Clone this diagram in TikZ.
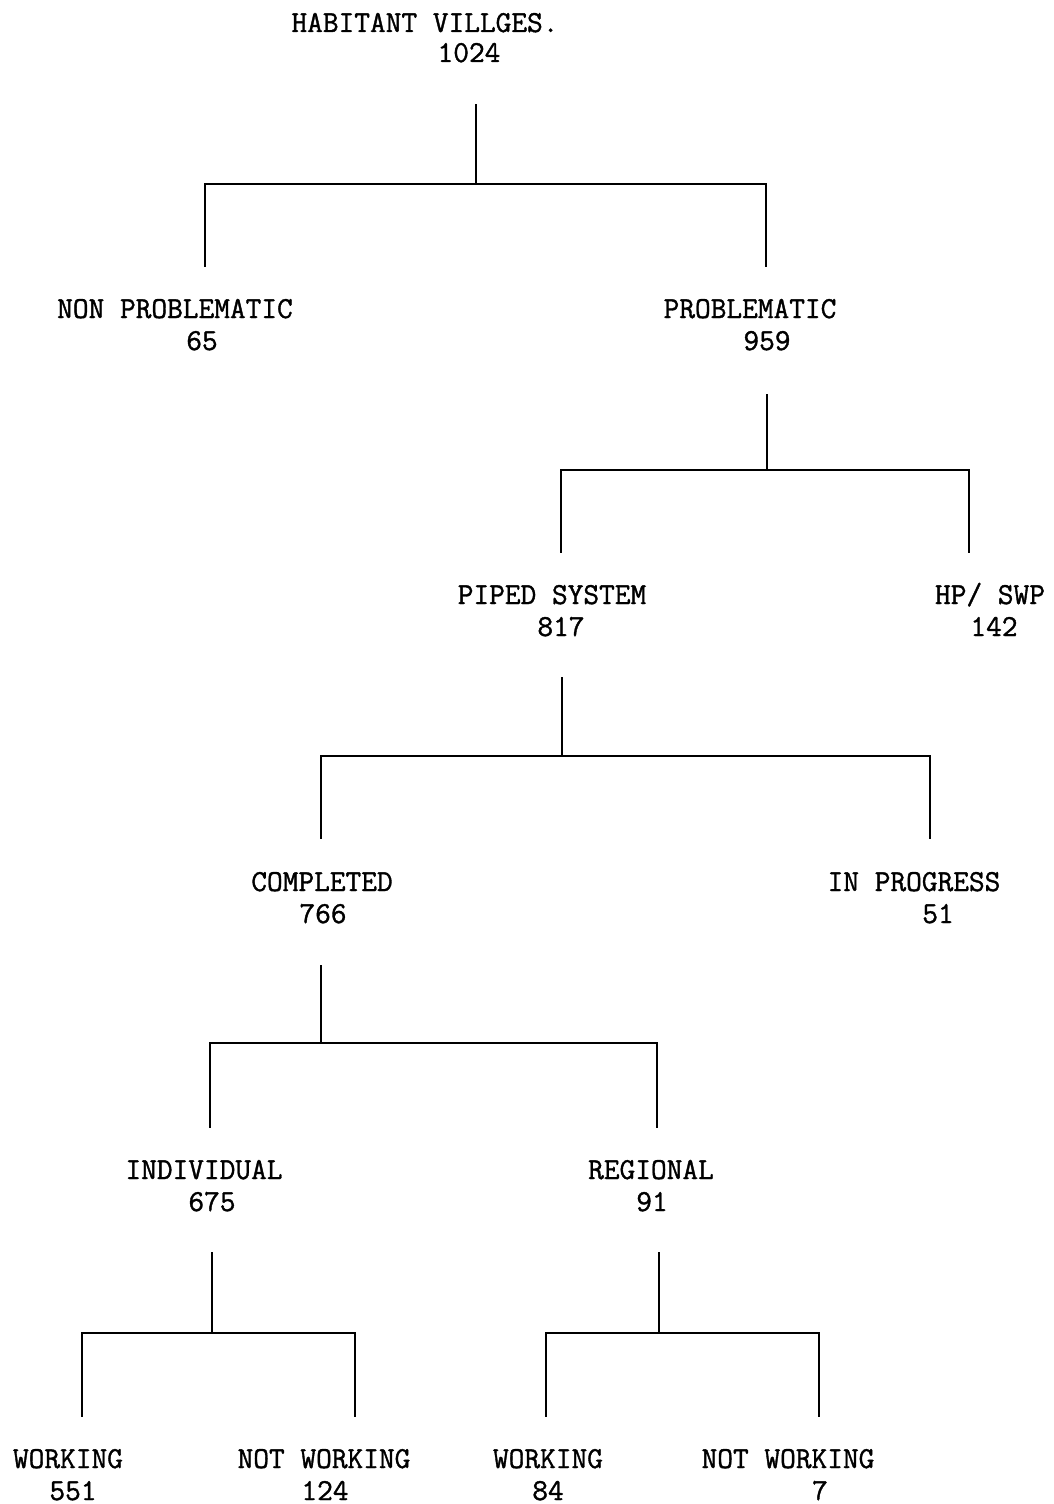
\documentclass[tikz,border=0pt]{standalone}
\usepackage{fontspec}
\newfontfamily\tyfont{Latin Modern Mono}[FakeBold=1.2]
\begin{document}
\begin{tikzpicture}[x=1pt,y=-1pt,
  lbl/.style={anchor=base, inner sep=0pt, font=\tyfont\fontsize{30.5}{32}\selectfont},
  conn/.style={line width=1.5pt, line cap=rect}]
\fill[white] (0,0) rectangle (1053,1504);
\useasboundingbox (0,0) rectangle (1053,1504);

% texts
\node[lbl] (root) at (425,32) {HABITANT VILLGES.};
\node[lbl] (rootn) at (469,62) {1024};
\node[lbl] (np) at (175,318) {NON PROBLEMATIC};
\node[lbl] (npn) at (202,350) {65};
\node[lbl] (pr) at (750,318) {PROBLEMATIC};
\node[lbl] (prn) at (767,350) {959};
\node[lbl] (ps) at (552,604) {PIPED SYSTEM};
\node[lbl] (psn) at (561,636) {817};
\node[lbl] (hp) at (990,604) {HP/ SWP};
\node[lbl] (hpn) at (994,636) {142};
\node[lbl] (co) at (322,891) {COMPLETED};
\node[lbl] (con) at (323,923) {766};
\node[lbl] (ip) at (914,891) {IN PROGRESS};
\node[lbl] (ipn) at (938,923) {51};
\node[lbl] (in) at (204,1179) {INDIVIDUAL};
\node[lbl] (inn) at (212,1211) {675};
\node[lbl] (re) at (651,1179) {REGIONAL};
\node[lbl] (ren) at (652,1211) {91};
\node[lbl] (w1) at (68,1468) {WORKING};
\node[lbl] (w1n) at (73,1500) {551};
\node[lbl] (nw1) at (324,1468) {NOT WORKING};
\node[lbl] (nw1n) at (325,1500) {124};
\node[lbl] (w2) at (548,1468) {WORKING};
\node[lbl] (w2n) at (548,1500) {84};
\node[lbl] (nw2) at (788,1468) {NOT WORKING};
\node[lbl] (nw2n) at (820,1500) {7};

% connector points
\coordinate (rootT) at (476,105);  \coordinate (rootB) at (476,184);
\coordinate (npT) at (205,266);    \coordinate (prT) at (766,266);
\coordinate (prS) at (767,395);    \coordinate (prB) at (767,470);
\coordinate (psT) at (561,552);    \coordinate (hpT) at (969,552);
\coordinate (psS) at (562,678);    \coordinate (psB) at (562,756);
\coordinate (coT) at (321,838);    \coordinate (ipT) at (930,838);
\coordinate (coS) at (321,966);    \coordinate (coB) at (321,1043);
\coordinate (inT) at (210,1127);   \coordinate (reT) at (657,1127);
\coordinate (inS) at (212,1253);   \coordinate (inB) at (212,1333);
\coordinate (w1T) at (82,1416);    \coordinate (nw1T) at (355,1416);
\coordinate (reS) at (659,1253);   \coordinate (reB) at (659,1333);
\coordinate (w2T) at (546,1416);   \coordinate (nw2T) at (819,1416);

\draw[conn] (rootT) -- (rootB);
\draw[conn] (npT) |- (rootB) -| (prT);
\draw[conn] (prS) -- (prB);
\draw[conn] (psT) |- (prB) -| (hpT);
\draw[conn] (psS) -- (psB);
\draw[conn] (coT) |- (psB) -| (ipT);
\draw[conn] (coS) -- (coB);
\draw[conn] (inT) |- (coB) -| (reT);
\draw[conn] (inS) -- (inB);
\draw[conn] (w1T) |- (inB) -| (nw1T);
\draw[conn] (reS) -- (reB);
\draw[conn] (w2T) |- (reB) -| (nw2T);
\end{tikzpicture}
\end{document}
